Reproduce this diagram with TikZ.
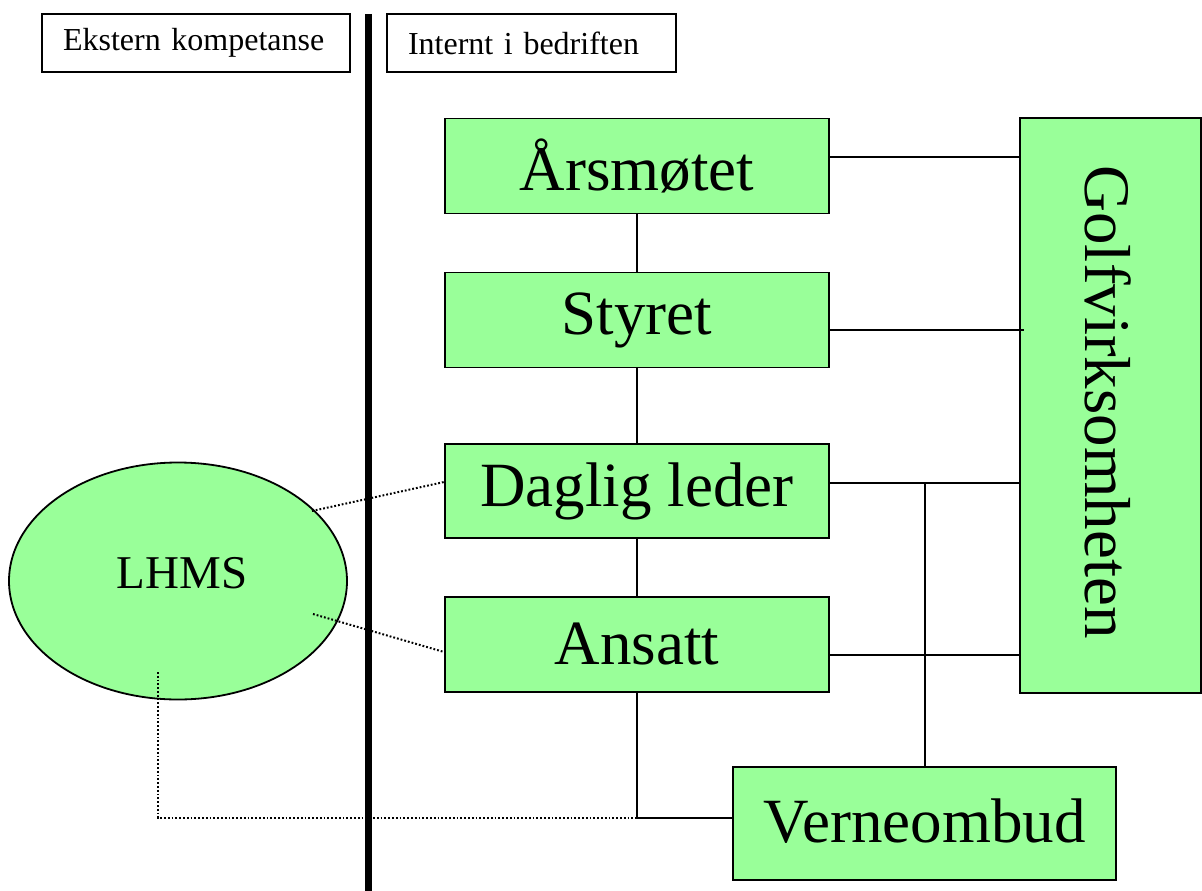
\documentclass[tikz,border=0pt]{standalone}
\usepackage{fontspec}
\setmainfont{Liberation Serif}
\usetikzlibrary{shapes.geometric}
\definecolor{boxgreen}{HTML}{99FF99}
\tikzset{
  gbox/.style={draw=black, line width=1.8pt, fill=boxgreen, minimum width=384pt, minimum height=95pt, inner sep=0pt, font=\fontsize{63}{70}\selectfont},
  hdr/.style={draw=black, line width=1.8pt, fill=white, minimum height=58pt, inner xsep=21pt, inner ysep=0pt, align=left, font=\fontsize{32}{36}\selectfont},
  conn/.style={draw=black, line width=1.6pt},
  dotconn/.style={draw=black, line width=2pt, dash pattern=on 1.8pt off 2pt}
}
\begin{document}
\begin{tikzpicture}[x=1pt,y=-1pt]
\useasboundingbox (0,0) rectangle (1202,891);
% headers
\node[hdr, text width=266pt] (ek) at (196,43) {Ekstern kompetanse};
\node[hdr, text width=247pt] (in) at (531.5,43) {Internt i bedriften};
% separator
\coordinate (sepTop) at (368.5,14);
\coordinate (sepBot) at (368.5,891);
\draw[line width=7pt] (sepTop) -- (sepBot);
% boxes
\node[gbox] (ars) at (637,166) {Årsmøtet};
\node[gbox] (sty) at (637,320) {Styret};
\node[gbox, minimum height=94pt] (dag) at (637,491) {Daglig leder};
\node[gbox] (ans) at (637,644.5) {Ansatt};
\node[gbox, minimum width=181pt, minimum height=575pt] (golf) at (1110.5,405.5) {};
\node[rotate=-90, font=\fontsize{65}{70}\selectfont] (golftxt) at (1108,402) {Golfvirksomheten};
\node[gbox, minimum width=383pt, minimum height=113pt] (ver) at (924.5,823.5) {\raisebox{6pt}{Verneombud}};
\node[draw=black, line width=1.8pt, fill=boxgreen, ellipse, minimum width=338pt, minimum height=237pt, inner sep=0pt, font=\fontsize{47}{50}\selectfont] (lh) at (178,581) {\hspace*{8pt}\raisebox{16pt}{LHMS}};
% solid connectors
\draw[conn] (ars.south) -- (sty.north);
\draw[conn] (sty.south) -- (dag.north);
\draw[conn] (dag.south) -- (ans.south |- ans.north);
\draw[conn] (ars.east |- 0,157) -- (golf.west |- 0,157);
\coordinate (styEnd) at (1024,330);
\draw[conn] (sty.east |- 0,330) -- (styEnd);
\draw[conn] (dag.east |- 0,483) -- (golf.west |- 0,483);
\draw[conn] (ans.east |- 0,655) -- (golf.west |- 0,655);
\coordinate (jn) at (925,483);
\draw[conn] (jn) -- (jn |- ver.north);
\coordinate (ansCorner) at (637,818);
\draw[conn] (ans.south) -- (ansCorner) -- (ver.west |- ansCorner);
% dotted connectors
\coordinate (lh1) at (312,511);
\coordinate (lh2) at (313,614);
\coordinate (lh3) at (158,672);
\coordinate (lhCorner) at (158,818);
\draw[dotconn] (lh1) -- (dag.west |- 0,482);
\draw[dotconn] (lh2) -- (ans.west |- 0,652);
\draw[dotconn] (lh3) -- (lhCorner) -- (ansCorner);
\end{tikzpicture}
\end{document}
